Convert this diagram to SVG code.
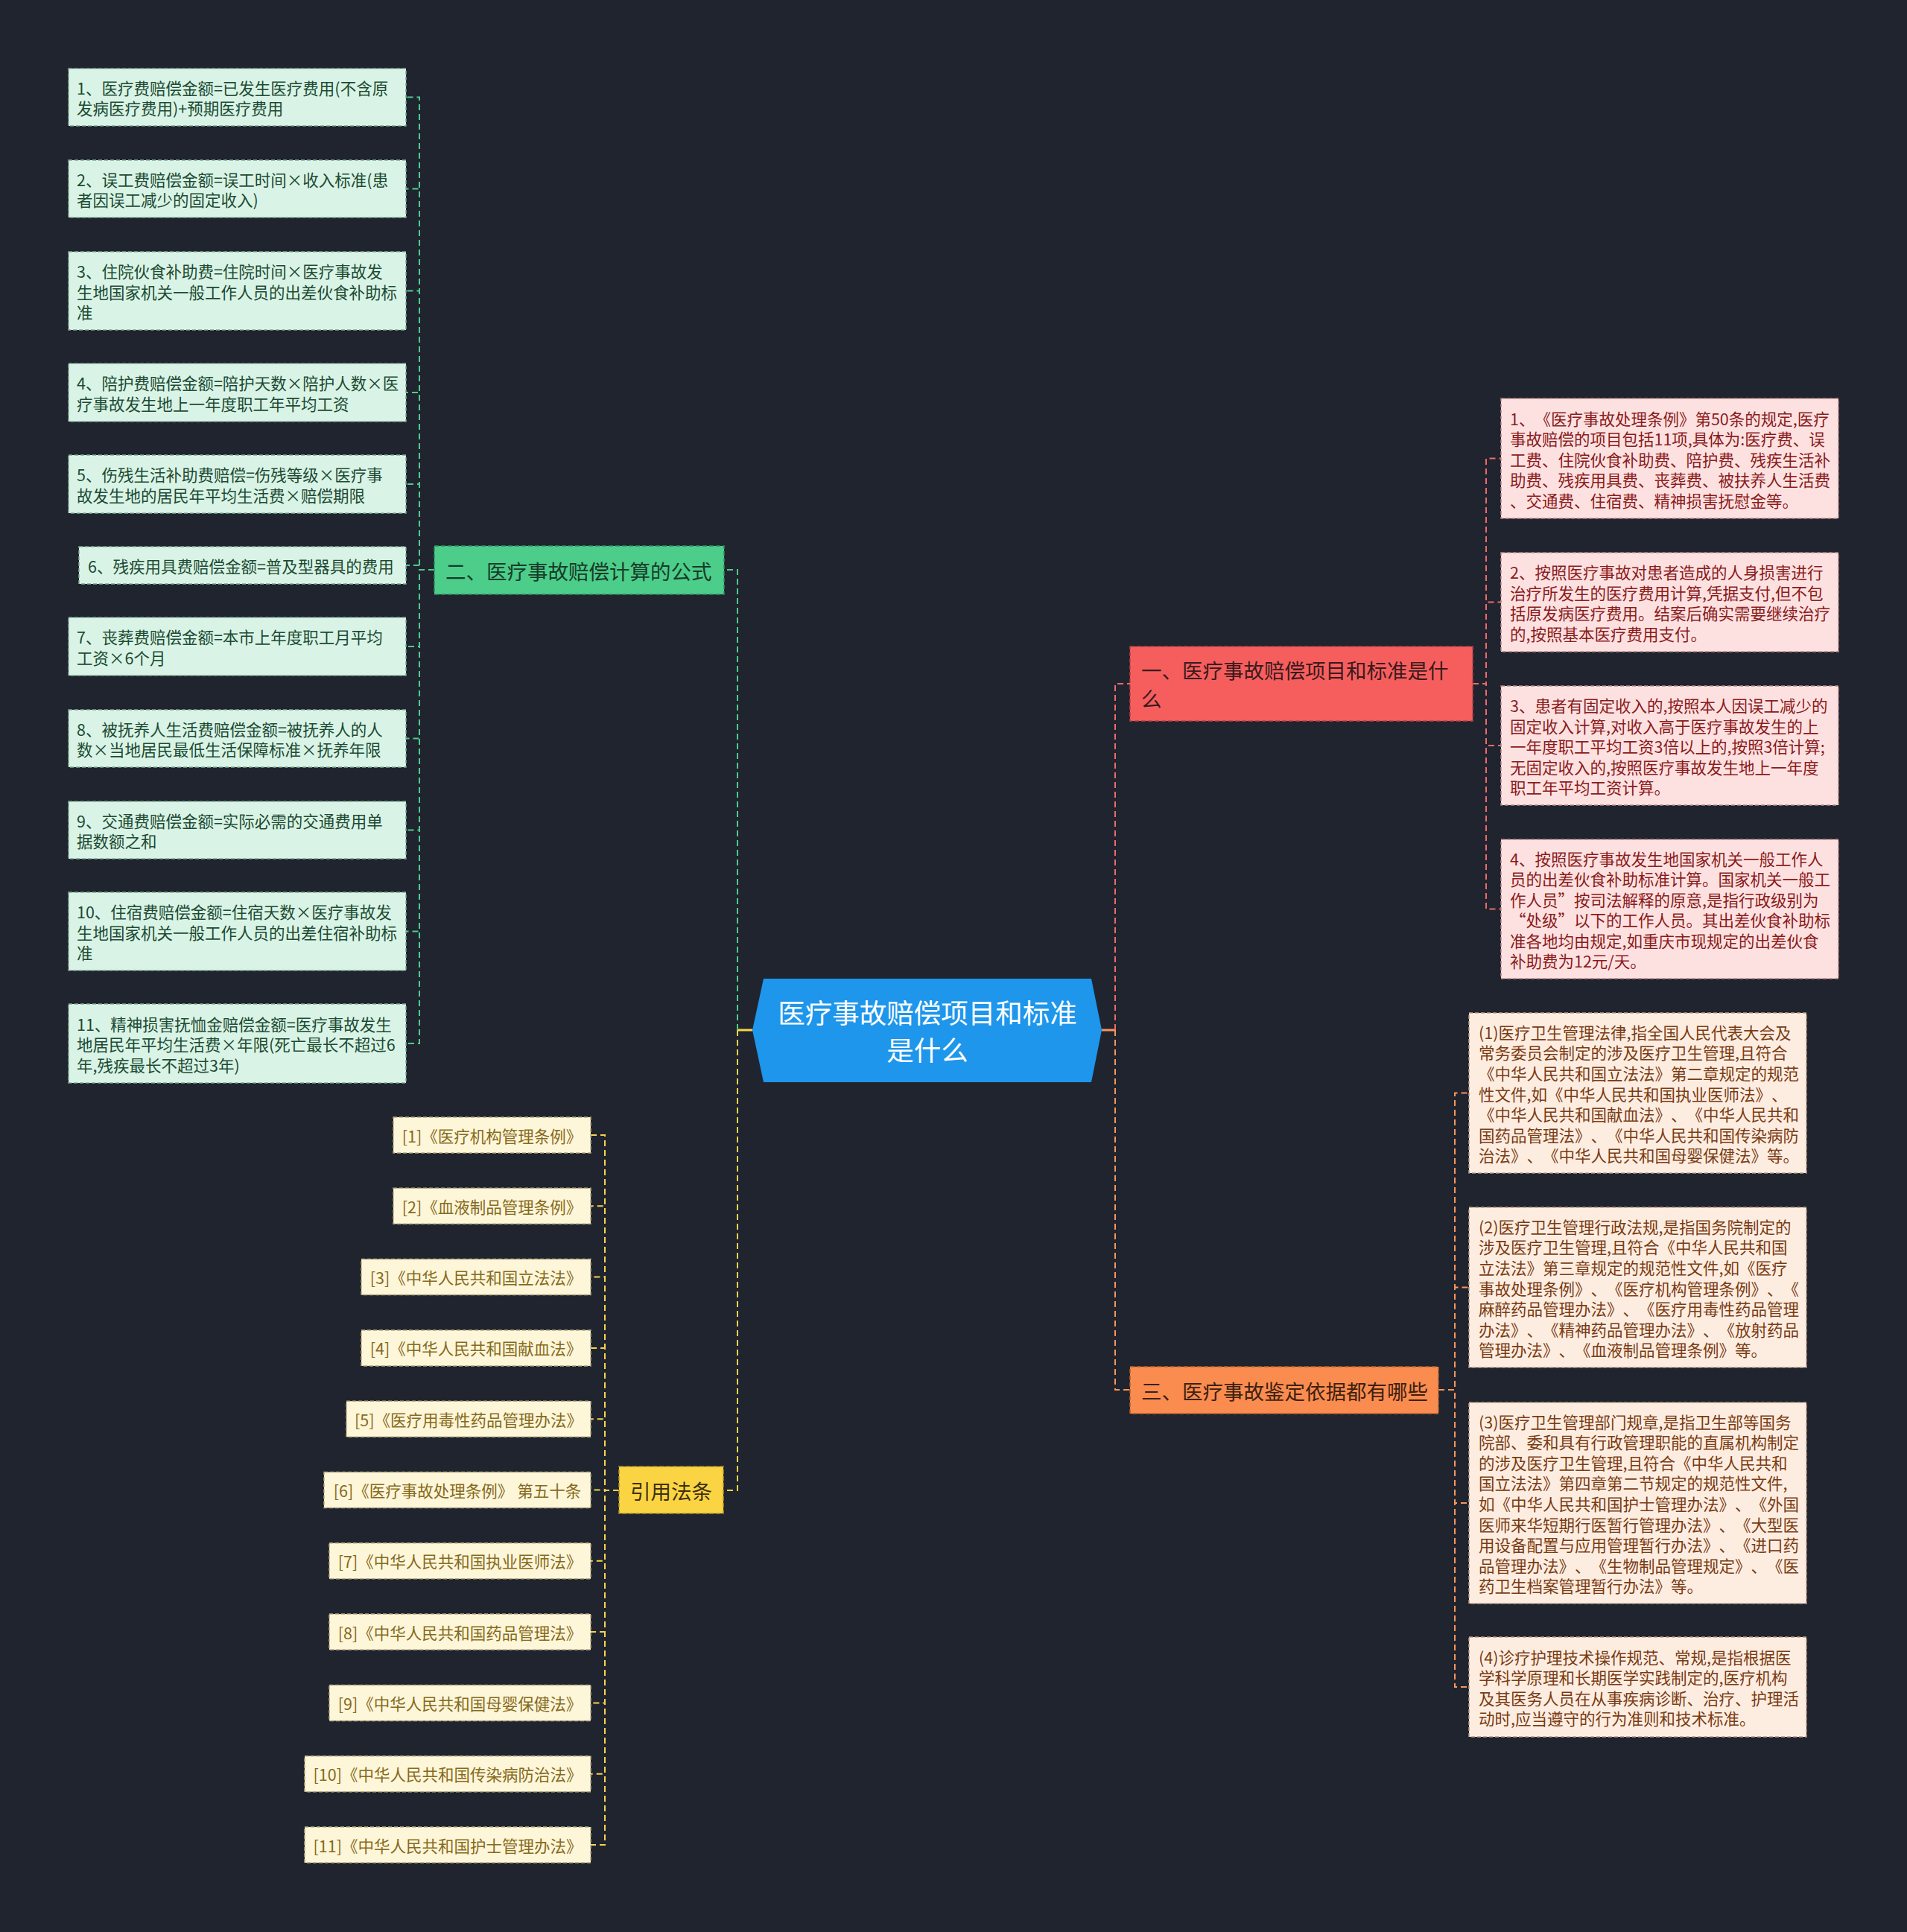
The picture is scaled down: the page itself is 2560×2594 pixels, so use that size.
<svg xmlns="http://www.w3.org/2000/svg" width="2560" height="2594" viewBox="0 0 2560 2594">
<style>
text{font-family:"Noto Sans CJK SC","Noto Sans",sans-serif;dominant-baseline:central;text-spacing-trim:space-all}
.lf{font-size:21.5px}
.br{font-size:27.5px}
.gl rect{fill:#d9f4e6;stroke:#7fa892;stroke-width:1.5;stroke-dasharray:5 3}
.gl text{fill:#1d4a33}
.rl rect{fill:#fde1e1;stroke:#b98585;stroke-width:1.5;stroke-dasharray:5 3}
.rl text{fill:#8a1b1b}
.ol rect{fill:#fdede1;stroke:#b99a83;stroke-width:1.5;stroke-dasharray:5 3}
.ol text{fill:#7a3b12}
.yl rect{fill:#fdf6d9;stroke:#b5a97c;stroke-width:1.5;stroke-dasharray:5 3}
.yl text{fill:#866a1c;text-anchor:middle}
.c{fill:none;stroke-width:2;stroke-dasharray:8 5}
.cg{stroke:#4ccd8a}.cr{stroke:#f0696a}.co{stroke:#f9955a}.cy{stroke:#f7d34d}
</style>
<rect width="2560" height="2594" fill="#20242f"/>
<g id="connectors">
<path d="M1010,1383H990" stroke="#f7d34d" stroke-width="3" fill="none"/>
<path d="M1479,1383H1497" stroke="#f9955a" stroke-width="3" fill="none"/>
<path class="c cg" d="M990,1383V765H972"/>
<path class="c cy" d="M990,1383V2001H971"/>
<path class="c cr" d="M1497,1383V918H1517"/>
<path class="c co" d="M1497,1383V1866H1517"/>
<path class="c cg" d="M583,765H563V130.5H545"/>
<path class="c cg" d="M583,765H563V253.5H545"/>
<path class="c cg" d="M583,765H563V390.5H545"/>
<path class="c cg" d="M583,765H563V527H545"/>
<path class="c cg" d="M583,765H563V650H545"/>
<path class="c cg" d="M583,765H563V759H545"/>
<path class="c cg" d="M583,765H563V868H545"/>
<path class="c cg" d="M583,765H563V991.5H545"/>
<path class="c cg" d="M583,765H563V1114.5H545"/>
<path class="c cg" d="M583,765H563V1250.5H545"/>
<path class="c cg" d="M583,765H563V1401H545"/>
<path class="c cr" d="M1977,918H1995V615.5H2015"/>
<path class="c cr" d="M1977,918H1995V808.5H2015"/>
<path class="c cr" d="M1977,918H1995V1001H2015"/>
<path class="c cr" d="M1977,918H1995V1220.5H2015"/>
<path class="c co" d="M1931,1866H1953V1467.5H1972"/>
<path class="c co" d="M1931,1866H1953V1728.5H1972"/>
<path class="c co" d="M1931,1866H1953V2018H1972"/>
<path class="c co" d="M1931,1866H1953V2265H1972"/>
<path class="c cy" d="M831,2001H812V1524H793"/>
<path class="c cy" d="M831,2001H812V1619.3H793"/>
<path class="c cy" d="M831,2001H812V1714.6H793"/>
<path class="c cy" d="M831,2001H812V1809.9H793"/>
<path class="c cy" d="M831,2001H812V1905.2H793"/>
<path class="c cy" d="M831,2001H812V2000.5H793"/>
<path class="c cy" d="M831,2001H812V2095.8H793"/>
<path class="c cy" d="M831,2001H812V2191.1H793"/>
<path class="c cy" d="M831,2001H812V2286.4H793"/>
<path class="c cy" d="M831,2001H812V2381.7H793"/>
<path class="c cy" d="M831,2001H812V2477H793"/>
</g>

<g id="center">
<polygon points="1025,1314 1465,1314 1479,1383 1465,1453 1025,1453 1010,1383" fill="#1d96ec"/>
<text font-size="36.5" fill="#ffffff" text-anchor="middle"><tspan x="1245" y="1358">医疗事故赔偿项目和标准</tspan><tspan x="1245" y="1408">是什么</tspan></text>
</g>

<g id="branch-1">
<rect x="1517" y="868" width="460" height="100" fill="#f65e5e" stroke="#b84343" stroke-width="1.5" stroke-dasharray="6 3"/>
<text class="br" fill="#3a1a1c"><tspan x="1532" y="899">一、医疗事故赔偿项目和标准是什</tspan><tspan x="1532" y="937">么</tspan></text>
</g>
<g id="branch-2">
<rect x="583" y="733" width="389" height="65" fill="#4ccd8a" stroke="#2f8a5c" stroke-width="1.5" stroke-dasharray="6 3"/>
<text class="br" fill="#173b28" x="598" y="766">二、医疗事故赔偿计算的公式</text>
</g>
<g id="branch-3">
<rect x="1517" y="1835" width="414" height="63" fill="#fa8c4f" stroke="#b3602f" stroke-width="1.5" stroke-dasharray="6 3"/>
<text class="br" fill="#3d2010" x="1532" y="1867">三、医疗事故鉴定依据都有哪些</text>
</g>
<g id="branch-4">
<rect x="831" y="1969" width="140" height="63" fill="#fbd443" stroke="#b0932a" stroke-width="1.5" stroke-dasharray="6 3"/>
<text class="br" fill="#3d3010" x="901" y="2001" text-anchor="middle">引用法条</text>
</g>

<g id="g1" class="gl"><rect x="92" y="92" width="453" height="77"/><text class="lf"><tspan x="103" y="116.75">1、医疗费赔偿金额=已发生医疗费用(不含原</tspan><tspan x="103" y="144.25">发病医疗费用)+预期医疗费用</tspan></text></g>
<g id="g2" class="gl"><rect x="92" y="215" width="453" height="77"/><text class="lf"><tspan x="103" y="239.75">2、误工费赔偿金额=误工时间×收入标准(患</tspan><tspan x="103" y="267.25">者因误工减少的固定收入)</tspan></text></g>
<g id="g3" class="gl"><rect x="92" y="338" width="453" height="105"/><text class="lf"><tspan x="103" y="363">3、住院伙食补助费=住院时间×医疗事故发</tspan><tspan x="103" y="390.5">生地国家机关一般工作人员的出差伙食补助标</tspan><tspan x="103" y="418">准</tspan></text></g>
<g id="g4" class="gl"><rect x="92" y="488" width="453" height="78"/><text class="lf"><tspan x="103" y="513.25">4、陪护费赔偿金额=陪护天数×陪护人数×医</tspan><tspan x="103" y="540.75">疗事故发生地上一年度职工年平均工资</tspan></text></g>
<g id="g5" class="gl"><rect x="92" y="611" width="453" height="78"/><text class="lf"><tspan x="103" y="636.25">5、伤残生活补助费赔偿=伤残等级×医疗事</tspan><tspan x="103" y="663.75">故发生地的居民年平均生活费×赔偿期限</tspan></text></g>
<g id="g6" class="gl"><rect x="106" y="734" width="439" height="50"/><text class="lf" x="118" y="759">6、残疾用具费赔偿金额=普及型器具的费用</text></g>
<g id="g7" class="gl"><rect x="92" y="829" width="453" height="78"/><text class="lf"><tspan x="103" y="854.25">7、丧葬费赔偿金额=本市上年度职工月平均</tspan><tspan x="103" y="881.75">工资×6个月</tspan></text></g>
<g id="g8" class="gl"><rect x="92" y="953" width="453" height="77"/><text class="lf"><tspan x="103" y="977.75">8、被抚养人生活费赔偿金额=被抚养人的人</tspan><tspan x="103" y="1005.25">数×当地居民最低生活保障标准×抚养年限</tspan></text></g>
<g id="g9" class="gl"><rect x="92" y="1076" width="453" height="77"/><text class="lf"><tspan x="103" y="1100.75">9、交通费赔偿金额=实际必需的交通费用单</tspan><tspan x="103" y="1128.25">据数额之和</tspan></text></g>
<g id="g10" class="gl"><rect x="92" y="1198" width="453" height="105"/><text class="lf"><tspan x="103" y="1223">10、住宿费赔偿金额=住宿天数×医疗事故发</tspan><tspan x="103" y="1250.5">生地国家机关一般工作人员的出差住宿补助标</tspan><tspan x="103" y="1278">准</tspan></text></g>
<g id="g11" class="gl"><rect x="92" y="1348" width="453" height="106"/><text class="lf"><tspan x="103" y="1373.5">11、精神损害抚恤金赔偿金额=医疗事故发生</tspan><tspan x="103" y="1401">地居民年平均生活费×年限(死亡最长不超过6</tspan><tspan x="103" y="1428.5">年,残疾最长不超过3年)</tspan></text></g>

<g id="r1" class="rl"><rect x="2015" y="535" width="453" height="161"/><text class="lf"><tspan x="2027" y="560.5">1、《医疗事故处理条例》第50条的规定,医疗</tspan><tspan x="2027" y="588">事故赔偿的项目包括11项,具体为:医疗费、误</tspan><tspan x="2027" y="615.5">工费、住院伙食补助费、陪护费、残疾生活补</tspan><tspan x="2027" y="643">助费、残疾用具费、丧葬费、被扶养人生活费</tspan><tspan x="2027" y="670.5">、交通费、住宿费、精神损害抚慰金等。</tspan></text></g>
<g id="r2" class="rl"><rect x="2015" y="742" width="453" height="133"/><text class="lf"><tspan x="2027" y="767.25">2、按照医疗事故对患者造成的人身损害进行</tspan><tspan x="2027" y="794.75">治疗所发生的医疗费用计算,凭据支付,但不包</tspan><tspan x="2027" y="822.25">括原发病医疗费用。结案后确实需要继续治疗</tspan><tspan x="2027" y="849.75">的,按照基本医疗费用支付。</tspan></text></g>
<g id="r3" class="rl"><rect x="2015" y="921" width="453" height="160"/><text class="lf"><tspan x="2027" y="946">3、患者有固定收入的,按照本人因误工减少的</tspan><tspan x="2027" y="973.5">固定收入计算,对收入高于医疗事故发生的上</tspan><tspan x="2027" y="1001">一年度职工平均工资3倍以上的,按照3倍计算;</tspan><tspan x="2027" y="1028.5">无固定收入的,按照医疗事故发生地上一年度</tspan><tspan x="2027" y="1056">职工年平均工资计算。</tspan></text></g>
<g id="r4" class="rl"><rect x="2015" y="1127" width="453" height="187"/><text class="lf"><tspan x="2027" y="1151.75">4、按照医疗事故发生地国家机关一般工作人</tspan><tspan x="2027" y="1179.25">员的出差伙食补助标准计算。国家机关一般工</tspan><tspan x="2027" y="1206.75">作人员”按司法解释的原意,是指行政级别为</tspan><tspan x="2027" y="1234.25">“处级”以下的工作人员。其出差伙食补助标</tspan><tspan x="2027" y="1261.75">准各地均由规定,如重庆市现规定的出差伙食</tspan><tspan x="2027" y="1289.25">补助费为12元/天。</tspan></text></g>

<g id="o1" class="ol"><rect x="1972" y="1360" width="453" height="215"/><text class="lf"><tspan x="1985" y="1384.7">(1)医疗卫生管理法律,指全国人民代表大会及</tspan><tspan x="1985" y="1412.3">常务委员会制定的涉及医疗卫生管理,且符合</tspan><tspan x="1985" y="1439.9">《中华人民共和国立法法》第二章规定的规范</tspan><tspan x="1985" y="1467.5">性文件,如《中华人民共和国执业医师法》、</tspan><tspan x="1985" y="1495.1">《中华人民共和国献血法》、《中华人民共和</tspan><tspan x="1985" y="1522.7">国药品管理法》、《中华人民共和国传染病防</tspan><tspan x="1985" y="1550.3">治法》、《中华人民共和国母婴保健法》等。</tspan></text></g>
<g id="o2" class="ol"><rect x="1972" y="1621" width="453" height="215"/><text class="lf"><tspan x="1985" y="1645.7">(2)医疗卫生管理行政法规,是指国务院制定的</tspan><tspan x="1985" y="1673.3">涉及医疗卫生管理,且符合《中华人民共和国</tspan><tspan x="1985" y="1700.9">立法法》第三章规定的规范性文件,如《医疗</tspan><tspan x="1985" y="1728.5">事故处理条例》、《医疗机构管理条例》、《</tspan><tspan x="1985" y="1756.1">麻醉药品管理办法》、《医疗用毒性药品管理</tspan><tspan x="1985" y="1783.7">办法》、《精神药品管理办法》、《放射药品</tspan><tspan x="1985" y="1811.3">管理办法》、《血液制品管理条例》等。</tspan></text></g>
<g id="o3" class="ol"><rect x="1972" y="1883" width="453" height="270"/><text class="lf"><tspan x="1985" y="1907.6">(3)医疗卫生管理部门规章,是指卫生部等国务</tspan><tspan x="1985" y="1935.2">院部、委和具有行政管理职能的直属机构制定</tspan><tspan x="1985" y="1962.8">的涉及医疗卫生管理,且符合《中华人民共和</tspan><tspan x="1985" y="1990.4">国立法法》第四章第二节规定的规范性文件,</tspan><tspan x="1985" y="2018">如《中华人民共和国护士管理办法》、《外国</tspan><tspan x="1985" y="2045.6">医师来华短期行医暂行管理办法》、《大型医</tspan><tspan x="1985" y="2073.2">用设备配置与应用管理暂行办法》、《进口药</tspan><tspan x="1985" y="2100.8">品管理办法》、《生物制品管理规定》、《医</tspan><tspan x="1985" y="2128.4">药卫生档案管理暂行办法》等。</tspan></text></g>
<g id="o4" class="ol"><rect x="1972" y="2198" width="453" height="134"/><text class="lf"><tspan x="1985" y="2223.6">(4)诊疗护理技术操作规范、常规,是指根据医</tspan><tspan x="1985" y="2251.2">学科学原理和长期医学实践制定的,医疗机构</tspan><tspan x="1985" y="2278.8">及其医务人员在从事疾病诊断、治疗、护理活</tspan><tspan x="1985" y="2306.4">动时,应当遵守的行为准则和技术标准。</tspan></text></g>

<g id="y1" class="yl"><rect x="528" y="1500" width="265" height="48"/><text class="lf" x="660.5" y="1524">[1]《医疗机构管理条例》</text></g>
<g id="y2" class="yl"><rect x="528" y="1595.3" width="265" height="48"/><text class="lf" x="660.5" y="1619.3">[2]《血液制品管理条例》</text></g>
<g id="y3" class="yl"><rect x="485" y="1690.6" width="308" height="48"/><text class="lf" x="639" y="1714.6">[3]《中华人民共和国立法法》</text></g>
<g id="y4" class="yl"><rect x="485" y="1785.9" width="308" height="48"/><text class="lf" x="639" y="1809.9">[4]《中华人民共和国献血法》</text></g>
<g id="y5" class="yl"><rect x="465" y="1881.2" width="328" height="48"/><text class="lf" x="629" y="1905.2">[5]《医疗用毒性药品管理办法》</text></g>
<g id="y6" class="yl"><rect x="435" y="1976.5" width="358" height="48"/><text class="lf" x="614" y="2000.5">[6]《医疗事故处理条例》 第五十条</text></g>
<g id="y7" class="yl"><rect x="442" y="2071.8" width="351" height="48"/><text class="lf" x="617.5" y="2095.8">[7]《中华人民共和国执业医师法》</text></g>
<g id="y8" class="yl"><rect x="442" y="2167.1" width="351" height="48"/><text class="lf" x="617.5" y="2191.1">[8]《中华人民共和国药品管理法》</text></g>
<g id="y9" class="yl"><rect x="442" y="2262.4" width="351" height="48"/><text class="lf" x="617.5" y="2286.4">[9]《中华人民共和国母婴保健法》</text></g>
<g id="y10" class="yl"><rect x="409" y="2357.7" width="384" height="48"/><text class="lf" x="601" y="2381.7">[10]《中华人民共和国传染病防治法》</text></g>
<g id="y11" class="yl"><rect x="409" y="2453" width="384" height="48"/><text class="lf" x="601" y="2477">[11]《中华人民共和国护士管理办法》</text></g>
</svg>
